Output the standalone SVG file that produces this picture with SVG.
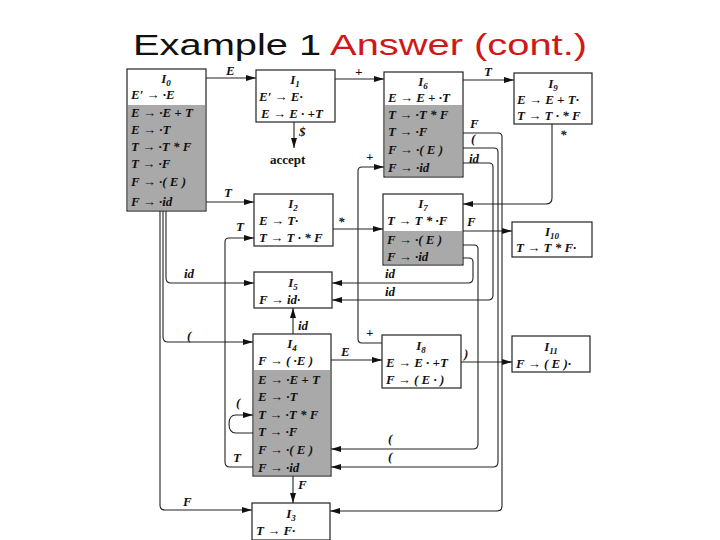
<svg xmlns="http://www.w3.org/2000/svg" width="720" height="540" viewBox="0 0 720 540">
<defs>
<marker id="a" markerWidth="10" markerHeight="6" refX="10" refY="3" orient="auto" markerUnits="userSpaceOnUse"><path d="M0,0L10,3L0,6z" fill="#111"/></marker>
<style>
.b{fill:#fff;stroke:#222;stroke-width:1.2}
.s{fill:#a9a9a9}
.t{font-family:"Liberation Serif",serif;font-style:italic;font-weight:bold;font-size:13px;fill:#111}
.c{text-anchor:middle}
.l{fill:none;stroke:#222;stroke-width:1.1;marker-end:url(#a)}
.u{font-size:9px;baseline-shift:-3px}
</style>
</defs>
<rect width="720" height="540" fill="#fff"/>
<text x="133" y="55" font-family="Liberation Sans,sans-serif" font-size="30" textLength="454" lengthAdjust="spacingAndGlyphs"><tspan fill="#111">Example 1 </tspan><tspan fill="#d01818">Answer (cont.)</tspan></text>

<g id="connectors">
<path class="l" d="M206,78H256"/><text class="t" x="226" y="75">E</text>
<path class="l" d="M335,79H384"/><text class="t" x="355" y="76">+</text>
<path class="l" d="M463,80H514"/><text class="t" x="484" y="76">T</text>
<path class="l" d="M294,122V148"/><text class="t" x="299" y="136">$</text>
<path class="l" d="M552,124V198Q552,204 546,204H463"/><text class="t" x="560" y="139">*</text>
<path class="l" d="M206,202H254"/><text class="t" x="224" y="197">T</text>
<path class="l" d="M333,229H383"/><text class="t" x="338" y="226">*</text>
<path class="l" d="M463,231H512"/><text class="t" x="467" y="226">F</text>
<path class="l" d="M461,362H512"/><text class="t" x="464" y="358">)</text>
<path class="l" d="M331,360H382"/><text class="t" x="341" y="356">E</text>
<path class="l" d="M293,334V308"/><text class="t" x="298" y="330">id</text>
<path class="l" d="M293,476V503"/><text class="t" x="298" y="489">F</text>
<path class="l" d="M382,343H362Q358,343 358,339V171Q358,167 362,167H384"/><text class="t" x="366" y="337">+</text><text class="t" x="366" y="161">+</text>
<path class="l" d="M463,133H498Q502,133 502,137V506Q502,511 497,511H330"/><text class="t" x="470" y="128">F</text>
<path class="l" d="M463,148H494Q498,148 498,152V462Q498,467 493,467H331"/><text class="t" x="471" y="143">(</text>
<path class="l" d="M463,163H489Q493,163 493,167V295Q493,300 488,300H332"/><text class="t" x="469" y="163">id</text>
<path class="l" d="M463,245H474Q478,245 478,249V444Q478,449 473,449H331"/><text class="t" x="388" y="443">(</text><text class="t" x="388" y="461">(</text>
<path class="l" d="M463,258H469Q473,258 473,262V278Q473,283 468,283H332"/><text class="t" x="385" y="278">id</text><text class="t" x="385" y="296">id</text>
<path class="l" d="M166,211V278Q166,283 171,283H254"/><text class="t" x="184" y="278">id</text>
<path class="l" d="M163,211V337Q163,342 168,342H253"/><text class="t" x="187" y="340">(</text>
<path class="l" d="M160,211V505Q160,510 165,510H252"/><text class="t" x="183" y="506">F</text>
<path class="l" d="M253,467H230Q225,467 225,462V242Q225,238 229,238H254"/><text class="t" x="236" y="231">T</text><text class="t" x="233" y="462">T</text>
<path class="l" d="M253,433H236Q229,433 229,424Q229,415 236,415H253"/><text class="t" x="236" y="407">(</text>
</g>

<g id="I0"><rect class="b" x="127" y="69" width="79" height="142"/><rect class="s" x="128" y="105" width="77" height="105"/>
<text class="t c" x="166" y="83">I<tspan class="u">0</tspan></text><text class="t" x="131" y="99">E′ → ·E</text><text class="t" x="131" y="117">E → ·E + T</text><text class="t" x="131" y="134">E → ·T</text><text class="t" x="131" y="151">T → ·T * F</text><text class="t" x="131" y="168">T → ·F</text><text class="t" x="131" y="186">F → ·( E )</text><text class="t" x="131" y="206">F → ·id</text></g>
<g id="I1"><rect class="b" x="256" y="70" width="79" height="52"/><text class="t c" x="295" y="84">I<tspan class="u">1</tspan></text><text class="t" x="259" y="101">E′ → E·</text><text class="t" x="261" y="118">E → E · +T</text></g>
<text class="t" x="270" y="164" style="font-style:normal">accept</text>
<g id="I6"><rect class="b" x="384" y="72" width="79" height="105"/><rect class="s" x="385" y="105" width="77" height="71"/><text class="t c" x="423" y="86">I<tspan class="u">6</tspan></text><text class="t" x="388" y="102">E → E + ·T</text><text class="t" x="388" y="119">T → ·T * F</text><text class="t" x="388" y="136">T → ·F</text><text class="t" x="388" y="154">F → ·( E )</text><text class="t" x="388" y="172">F → ·id</text></g>
<g id="I9"><rect class="b" x="514" y="73" width="78" height="51"/><text class="t c" x="553" y="88">I<tspan class="u">9</tspan></text><text class="t" x="517" y="104">E → E + T·</text><text class="t" x="517" y="120">T → T · * F</text></g>
<g id="I2"><rect class="b" x="254" y="194" width="79" height="52"/><text class="t c" x="293" y="208">I<tspan class="u">2</tspan></text><text class="t" x="259" y="225">E → T·</text><text class="t" x="259" y="242">T → T · * F</text></g>
<g id="I7"><rect class="b" x="383" y="194" width="80" height="71"/><rect class="s" x="384" y="231" width="78" height="33"/><text class="t c" x="423" y="208">I<tspan class="u">7</tspan></text><text class="t" x="387" y="225">T → T * ·F</text><text class="t" x="387" y="244">F → ·( E )</text><text class="t" x="387" y="261">F → ·id</text></g>
<g id="I10"><rect class="b" x="512" y="222" width="80" height="35"/><text class="t c" x="552" y="236">I<tspan class="u">10</tspan></text><text class="t" x="516" y="252">T → T * F·</text></g>
<g id="I5"><rect class="b" x="254" y="272" width="78" height="36"/><text class="t c" x="293" y="287">I<tspan class="u">5</tspan></text><text class="t" x="259" y="304">F → id·</text></g>
<g id="I4"><rect class="b" x="253" y="334" width="78" height="142"/><rect class="s" x="254" y="370" width="76" height="105"/><text class="t c" x="292" y="348">I<tspan class="u">4</tspan></text><text class="t" x="258" y="365">F → ( ·E )</text><text class="t" x="258" y="384">E → ·E + T</text><text class="t" x="258" y="401">E → ·T</text><text class="t" x="258" y="419">T → ·T * F</text><text class="t" x="258" y="436">T → ·F</text><text class="t" x="258" y="454">F → ·( E )</text><text class="t" x="258" y="472">F → ·id</text></g>
<g id="I8"><rect class="b" x="382" y="335" width="79" height="53"/><text class="t c" x="421" y="350">I<tspan class="u">8</tspan></text><text class="t" x="386" y="367">E → E · +T</text><text class="t" x="386" y="384">F → ( E · )</text></g>
<g id="I11"><rect class="b" x="512" y="336" width="78" height="36"/><text class="t c" x="551" y="351">I<tspan class="u">11</tspan></text><text class="t" x="516" y="368">F → ( E )·</text></g>
<g id="I3"><rect class="b" x="252" y="503" width="78" height="37"/><text class="t c" x="291" y="518">I<tspan class="u">3</tspan></text><text class="t" x="256" y="535">T → F·</text></g>
</svg>
